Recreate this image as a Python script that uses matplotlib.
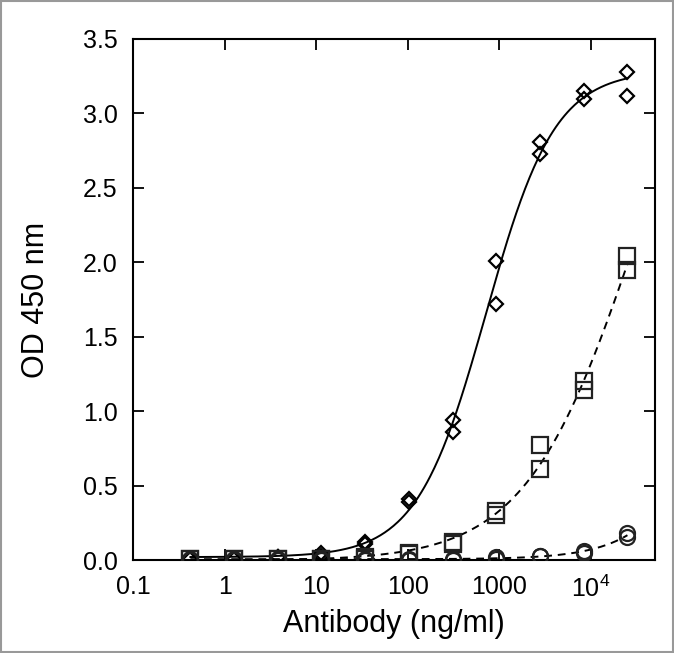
import numpy as np
import matplotlib
matplotlib.use("Agg")
import matplotlib.pyplot as plt
from matplotlib.patches import Rectangle
from matplotlib.ticker import FixedLocator, FixedFormatter, NullLocator

plt.rcParams['font.family'] = ['Liberation Sans', 'DejaVu Sans']
plt.rcParams['mathtext.fontset'] = 'custom'
plt.rcParams['mathtext.rm'] = 'Liberation Sans'
plt.rcParams['mathtext.it'] = 'Liberation Sans'

# ---- data (duplicate wells, 3-fold dilutions) ----
conc = [25000 / 3 ** k for k in range(10, -1, -1)]
diamond_a = [0.01, 0.01, 0.02, 0.05, 0.12, 0.41, 0.94, 2.01, 2.81, 3.15, 3.28]
diamond_b = [0.01, 0.01, 0.02, 0.03, 0.11, 0.39, 0.86, 1.72, 2.73, 3.10, 3.12]
square_a = [0.01, 0.01, 0.01, 0.01, 0.02, 0.05, 0.12, 0.33, 0.77, 1.20, 2.04]
square_b = [0.01, 0.01, 0.01, 0.01, 0.01, 0.04, 0.11, 0.30, 0.61, 1.14, 1.95]
circle_a = [0.01, 0.01, 0.01, 0.01, 0.01, 0.01, 0.01, 0.02, 0.03, 0.06, 0.18]
circle_b = [0.00, 0.00, 0.00, 0.00, 0.00, 0.00, 0.00, 0.01, 0.03, 0.05, 0.155]

xticks = [0.1, 1, 10, 100, 1000, 10000]
xticklabels = ['0.1', '1', '10', '100', '1000', r'10$^{4}$']
yticks = [0.0, 0.5, 1.0, 1.5, 2.0, 2.5, 3.0, 3.5]


def model(p, lx):
    b, t, c, h = p
    return b + (t - b) / (1.0 + 10.0 ** ((c - lx) * h))


def fit4pl(x, y):
    lx = np.log10(np.asarray(x, float))
    y = np.asarray(y, float)
    half = (y.min() + y.max()) / 2
    c0 = lx[np.argmin(np.abs(y - half))]
    p = np.array([y.min(), y.max() * 1.1, c0, 1.0])
    lam = 1e-2
    def sse(pp):
        r = y - model(pp, lx)
        return float(r @ r)
    cur = sse(p)
    for _ in range(400):
        r = y - model(p, lx)
        J = np.zeros((lx.size, 4))
        for i in range(4):
            d = np.zeros(4); d[i] = 1e-6 * max(1.0, abs(p[i]))
            J[:, i] = (model(p + d, lx) - model(p - d, lx)) / (2 * d[i])
        A = J.T @ J
        g = J.T @ r
        step = np.linalg.solve(A + lam * np.diag(np.diag(A) + 1e-12), g)
        pn = p + step
        pn[3] = np.clip(pn[3], 0.3, 3.0)
        pn[2] = np.clip(pn[2], lx.min() - 1, lx.max() + 1.5)
        new = sse(pn)
        if new < cur:
            p, cur = pn, new
            lam *= 0.3
        else:
            lam *= 5
    return p


fig = plt.figure(figsize=(6.74, 6.53), dpi=100)
ax = fig.add_axes([0.1973, 0.1424, 0.7745, 0.7979])

xs = np.concatenate([conc, conc])
xfine = np.logspace(np.log10(conc[0]), np.log10(conc[-1]), 300)

series = [
    (diamond_a, diamond_b, 'D', 7.3, '-', '#000000'),
    (square_a, square_b, 's', 11.3, (0, (4, 3)), '#222222'),
    (circle_a, circle_b, 'o', 10.8, (0, (4, 3)), '#222222'),
]
for ya, yb, mk, ms, ls, ec in series:
    ys = np.concatenate([ya, yb])
    p = fit4pl(xs, ys)
    ax.plot(xfine, model(p, np.log10(xfine)), color='black', lw=1.4, ls=ls, zorder=2)
    for yy in (ya, yb):
        ax.plot(conc, yy, ls='none', marker=mk, ms=ms, mfc='none', mec=ec, mew=1.6, zorder=3)

ax.set_xscale('log')
ax.set_xlim(0.1, 50000)
ax.set_ylim(0, 3.5)
ax.xaxis.set_major_locator(FixedLocator(xticks))
ax.xaxis.set_major_formatter(FixedFormatter(xticklabels))
ax.xaxis.set_minor_locator(NullLocator())
ax.set_yticks(yticks)
ax.set_yticklabels([f'{v:.1f}' for v in yticks])

ax.tick_params(axis='both', which='major', direction='in', length=8, width=1.3,
               labelsize=18, top=True, right=True)
ax.tick_params(axis='x', pad=11)
ax.tick_params(axis='y', pad=11)
for s in ax.spines.values():
    s.set_linewidth(1.5)

ax.set_xlabel('Antibody (ng/ml)', fontsize=22, labelpad=5)
ax.set_ylabel('OD 450 nm', fontsize=22, labelpad=23)

fig.patches.append(Rectangle((0.002, 0.002), 0.996, 0.996, transform=fig.transFigure,
                             fill=False, edgecolor='#999999', lw=1.5))

fig.savefig('out.png', dpi=100)
